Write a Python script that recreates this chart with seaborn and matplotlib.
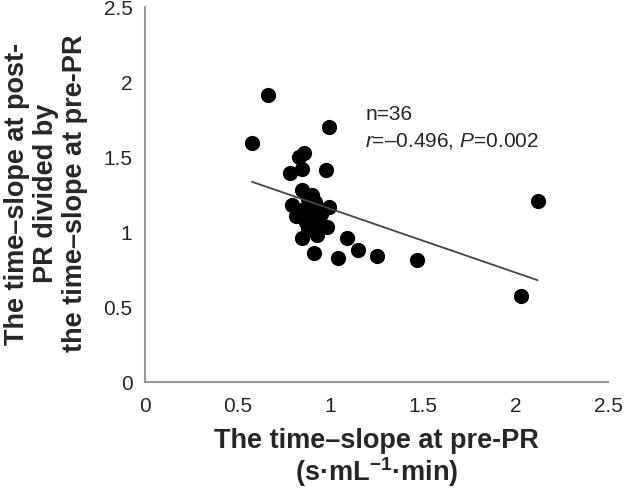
import matplotlib
matplotlib.use("Agg")
import matplotlib.pyplot as plt
import seaborn as sns
import pandas as pd

# Values (pre-PR slope vs post/pre ratio)
pre_slope = [0.665, 0.578, 0.995, 0.86, 0.83, 0.784, 0.85, 0.978, 0.85, 0.90,
             0.795, 0.995, 0.816, 0.886, 0.94, 0.87, 0.984, 0.924, 0.85, 0.93,
             0.913, 1.09, 1.04, 1.15, 1.25, 1.47, 2.12, 2.03,
             0.88, 0.92, 0.90, 0.86, 0.93, 0.88, 0.95, 0.84]
ratio = [1.913, 1.593, 1.70, 1.527, 1.50, 1.393, 1.42, 1.413, 1.28, 1.25,
         1.18, 1.17, 1.107, 1.127, 1.147, 1.067, 1.033, 1.033, 0.96, 0.98,
         0.86, 0.96, 0.827, 0.88, 0.84, 0.813, 1.207, 0.573,
         1.22, 1.20, 1.15, 1.10, 1.08, 1.02, 1.12, 1.15]
x_ticks = [0, 0.5, 1, 1.5, 2, 2.5]
y_ticks = [0, 0.5, 1, 1.5, 2, 2.5]
tick_labels = ["0", "0.5", "1", "1.5", "2", "2.5"]

df = pd.DataFrame({"pre": pre_slope, "ratio": ratio})

sns.set_style("white")
plt.rcParams["font.family"] = ["Liberation Sans", "DejaVu Sans"]
plt.rcParams["mathtext.fontset"] = "custom"
plt.rcParams["mathtext.rm"] = "Liberation Sans"
plt.rcParams["mathtext.it"] = "Liberation Sans:italic"
plt.rcParams["mathtext.bf"] = "Liberation Sans:bold"

fig = plt.figure(figsize=(6.32, 4.89), dpi=100)
# axes box in pixels: x 145..608, y 8..383
ax = fig.add_axes([145 / 632, 1 - 383 / 489, 463 / 632, 375 / 489])

sns.regplot(data=df, x="pre", y="ratio", ax=ax, ci=None,
            scatter_kws={"s": 120, "color": "black", "alpha": 1, "linewidths": 0},
            line_kws={"color": "#444444", "linewidth": 1.3})

ax.set_xlim(0, 2.5)
ax.set_ylim(0, 2.5)
ax.set_xticks(x_ticks)
ax.set_xticklabels(tick_labels)
ax.set_yticks(y_ticks)
ax.set_yticklabels(tick_labels)

for side in ["top", "right"]:
    ax.spines[side].set_visible(False)
for side in ["left", "bottom"]:
    ax.spines[side].set_color("#999999")
    ax.spines[side].set_linewidth(1.5)

ax.tick_params(axis="both", direction="out", length=6, width=1.5, color="#999999",
               labelsize=15)
ax.tick_params(axis="x", pad=4)
ax.tick_params(axis="y", pad=3)

ax.set_xlabel("The time–slope at pre-PR\n(s·mL$^{\\mathbf{-1}}$·min)",
              fontsize=19.5, fontweight="bold", linespacing=1.05, va="top")
ax.xaxis.set_label_coords(0.5, -0.12)
ax.set_ylabel("The time–slope at post-\nPR divided by\nthe time–slope at pre-PR",
              fontsize=19.5, fontweight="bold", linespacing=1.15, va="center")
ax.yaxis.set_label_coords(-0.214, 0.505)

ax.text(1.19, 1.787, "n=36", fontsize=15, va="center", ha="left")
ax.text(1.19, 1.613, "$\\mathit{r}$=–0.496, $\\mathit{P}$=0.002",
        fontsize=15, va="center", ha="left")

fig.savefig("out.png", dpi=100)
